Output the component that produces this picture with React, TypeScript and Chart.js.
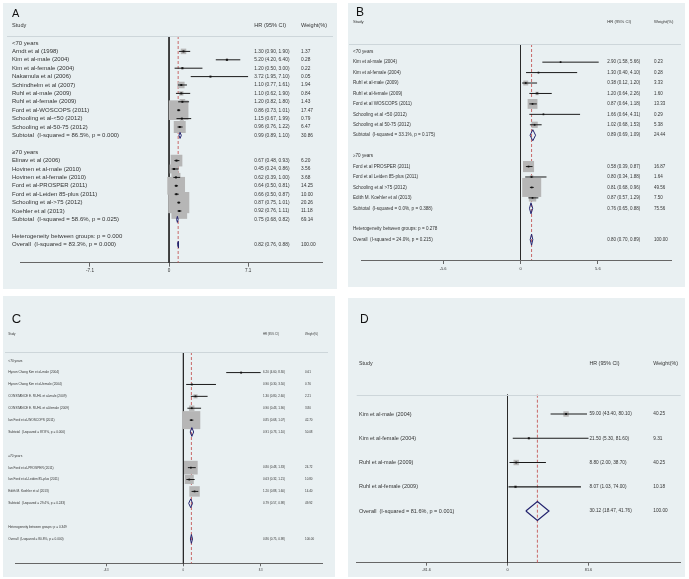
import React, { useEffect, useRef } from 'react';
import { Chart, registerables } from 'chart.js';

Chart.register(...registerables);

const FONT = '"Liberation Sans", Arial, Helvetica, sans-serif';
Chart.defaults.font.family = FONT;

// ---------------- Panel A ----------------
const aLabels = [
  '<70 years', 'Arndt et al (1998)', 'Kim et al-male (2004)', 'Kim et al-female (2004)', 'Nakamula et al (2006)',
  'Schindhelm et al (2007)', 'Ruhl et al-male (2009)', 'Ruhl et al-female (2009)', 'Ford et al-WOSCOPS (2011)',
  'Schooling et al-<50 (2012)', 'Schooling et al-50-75 (2012)', 'Subtotal  (I-squared = 86.5%, p = 0.000)', '',
  '≥70 years', 'Elinav et al (2006)', 'Hovinen et al-male (2010)', 'Hovinen et al-female (2010)',
  'Ford et al-PROSPER (2011)', 'Ford et al-Leiden 85-plus (2011)', 'Schooling et al->75 (2012)', 'Koehler et al (2013)',
  'Subtotal  (I-squared = 58.6%, p = 0.025)', '', 'Heterogeneity between groups: p = 0.000',
  'Overall  (I-squared = 83.3%, p = 0.000)',
];
const aHR = [null, 1.30, 5.20, 1.20, 3.72, 1.10, 1.10, 1.20, 0.86, 1.15, 0.96, 0.99, null, null, 0.67, 0.45, 0.62, 0.64, 0.66, 0.87, 0.92, 0.75, null, null, 0.82];
const aLow = [null, 0.90, 4.20, 0.50, 1.95, 0.77, 0.62, 0.82, 0.73, 0.67, 0.76, 0.89, null, null, 0.48, 0.24, 0.39, 0.50, 0.50, 0.75, 0.76, 0.68, null, null, 0.76];
const aHigh = [null, 1.90, 6.40, 3.00, 7.10, 1.61, 1.90, 1.80, 1.01, 1.99, 1.22, 1.10, null, null, 0.93, 0.86, 1.00, 0.81, 0.87, 1.01, 1.11, 0.82, null, null, 0.88];
const aWeight = [null, 1.37, 0.28, 0.22, 0.05, 1.94, 0.84, 1.43, 17.47, 0.79, 6.47, 30.86, null, null, 6.20, 3.56, 3.68, 14.25, 10.00, 20.26, 11.18, 69.14, null, null, 100.00];
const aTicks = [-7.1, 0, 7.1];

// ---------------- Panel B ----------------
const bLabels = [
  '<70 years', 'Kim et al-male (2004)', 'Kim et al-female (2004)', 'Ruhl et al-male (2009)', 'Ruhl et al-female (2009)',
  'Ford et al WOSCOPS (2011)', 'Schooling et al <50 (2012)', 'Schooling et al 50-75 (2012)',
  'Subtotal  (I-squared = 33.1%, p = 0.175)', '', '≥70 years', 'Ford et al PROSPER (2011)',
  'Ford et al Leiden 85-plus (2011)', 'Schooling et al >75 (2012)', 'Edith M. Koehler et al (2013)',
  'Subtotal  (I-squared = 0.0%, p = 0.388)', '', 'Heterogeneity between groups: p = 0.278',
  'Overall  (I-squared = 24.0%, p = 0.215)',
];
const bHR = [null, 2.90, 1.30, 0.38, 1.20, 0.87, 1.66, 1.02, 0.89, null, null, 0.58, 0.80, 0.81, 0.87, 0.76, null, null, 0.80];
const bLow = [null, 1.58, 0.40, 0.12, 0.64, 0.64, 0.64, 0.68, 0.69, null, null, 0.39, 0.34, 0.68, 0.57, 0.65, null, null, 0.70];
const bHigh = [null, 5.66, 4.10, 1.20, 2.26, 1.18, 4.31, 1.53, 1.09, null, null, 0.87, 1.88, 0.96, 1.29, 0.88, null, null, 0.89];
const bWeight = [null, 0.23, 0.28, 3.33, 1.60, 13.33, 0.29, 5.38, 24.44, null, null, 16.87, 1.64, 49.56, 7.50, 75.56, null, null, 100.00];
const bTicks = [-5.6, 0, 5.6];

// ---------------- Panel C ----------------
const cLabels = [
  '<70 years', 'Hyeon Chang Kim et al-male (2004)', 'Hyeon Chang Kim et al-female (2004)',
  'CONSTANCE E. RUHL et al-male (2009)', 'CONSTANCE E. RUHL et al-female (2009)', 'Ian Ford et al-WOSCOPS (2011)',
  'Subtotal  (I-squared = 87.8%, p = 0.000)', '', '≥70 years', 'Ian Ford et al-PROSPER (2011)',
  'Ian Ford et al-Leiden 85-plus (2011)', 'Edith M. Koehler et al (2013)',
  'Subtotal  (I-squared = 29.4%, p = 0.243)', '', 'Heterogeneity between groups: p = 0.349',
  'Overall  (I-squared = 80.8%, p = 0.000)',
];
const cHR = [null, 6.20, 0.90, 1.30, 0.90, 0.85, 0.91, null, null, 0.80, 0.63, 1.20, 0.79, null, null, 0.86];
const cLow = [null, 4.60, 0.30, 0.80, 0.43, 0.68, 0.73, null, null, 0.48, 0.32, 0.88, 0.57, null, null, 0.75];
const cHigh = [null, 8.30, 3.50, 2.60, 1.90, 1.07, 1.10, null, null, 1.33, 1.21, 1.60, 0.98, null, null, 0.98];
const cWeight = [null, 0.61, 0.76, 2.21, 3.80, 42.70, 50.08, null, null, 24.72, 10.80, 14.40, 49.92, null, null, 100.00];
const cTicks = [-8.3, 0, 8.3];

// ---------------- Panel D ----------------
const dLabels = [
  'Kim et al-male (2004)', 'Kim et al-female (2004)', 'Ruhl et al-male (2009)', 'Ruhl et al-female (2009)',
  'Overall  (I-squared = 81.6%, p = 0.001)',
];
const dHR = [59.00, 21.50, 8.80, 8.07, 30.12];
const dLow = [43.40, 5.30, 2.00, 1.03, 18.47];
const dHigh = [80.10, 81.60, 38.70, 74.00, 41.76];
const dWeight = [40.25, 9.31, 40.25, 10.18, 100.00];
const dTicks = [-81.6, 0, 81.6];

const headers = ['Study', 'HR (95% CI)', 'Weight(%)'];

type Panel = {
  letter: string;
  labels: string[]; hr: (number | null)[]; lo: (number | null)[]; hi: (number | null)[]; wt: (number | null)[]; ticks: number[];
  x: number; y: number; w: number; h: number;
  padL: number; padR: number; padT: number; axisH: number;
  yMin: number; yMax: number; xMin: number; xMax: number;
  labelX: number; hrX: number; wX: number; headerY: number;
  letterX: number; letterY: number; letterSize: number;
  labelSize: number; numSize: number; headSize: number; tickSize: number; tickLen: number; tickPad: number;
  boxK: number; markR: number; lineW: number; diamondHalf: number; diamondW: number;
  sepX0: number; sepX1: number;
};

const panels: Panel[] = [
  {
    letter: 'A', labels: aLabels, hr: aHR, lo: aLow, hi: aHigh, wt: aWeight, ticks: aTicks,
    x: 3, y: 3, w: 334, h: 286, padL: 17, padR: 12, padT: 33, axisH: 26.3,
    yMin: -0.833, yMax: 26.155, xMin: -13.43, xMax: 13.70,
    labelX: 9, hrX: 251.3, wX: 298, headerY: 22, letterX: 9, letterY: 10.5, letterSize: 11,
    labelSize: 6, numSize: 4.8, headSize: 5.6, tickSize: 4.6, tickLen: 4, tickPad: 1.2,
    boxK: 4.7, markR: 1.4, lineW: 1, diamondHalf: 0.36, diamondW: 1, sepX0: 4, sepX1: 330,
  },
  {
    letter: 'B', labels: bLabels, hr: bHR, lo: bLow, hi: bHigh, wt: bWeight, ticks: bTicks,
    x: 348, y: 3, w: 337, h: 284, padL: 12, padR: 4.3, padT: 41, axisH: 27,
    yMin: -0.738, yMax: 19.95, xMin: -11.5, xMax: 10.945,
    labelX: 5, hrX: 259.3, wX: 306, headerY: 19, letterX: 8, letterY: 10, letterSize: 12,
    labelSize: 4.6, numSize: 4.5, headSize: 4.2, tickSize: 4, tickLen: 4, tickPad: 2.6,
    boxK: 2.7, markR: 1.2, lineW: 1, diamondHalf: 0.53, diamondW: 1, sepX0: 1, sepX1: 333,
  },
  {
    letter: 'C', labels: cLabels, hr: cHR, lo: cLow, hi: cHigh, wt: cWeight, ticks: cTicks,
    x: 3, y: 296, w: 332, h: 281, padL: 1, padR: 8.3, padT: 56, axisH: 13.7,
    yMin: -0.732, yMax: 17.05, xMin: -18.06, xMax: 14.87,
    labelX: 5.3, hrX: 260, wX: 302, headerY: 38.7, letterX: 8.7, letterY: 23.7, letterSize: 13,
    labelSize: 3.2, numSize: 3, headSize: 2.8, tickSize: 2.8, tickLen: 3, tickPad: 2,
    boxK: 2.75, markR: 1.2, lineW: 1, diamondHalf: 0.37, diamondW: 1, sepX0: 2, sepX1: 325,
  },
  {
    letter: 'D', labels: dLabels, hr: dHR, lo: dLow, hi: dHigh, wt: dWeight, ticks: dTicks,
    x: 348, y: 298, w: 337, h: 279, padL: 8.7, padR: 4.3, padT: 96.7, axisH: 14.3,
    yMin: -0.796, yMax: 6.13, xMin: -152.4, xMax: 174,
    labelX: 11, hrX: 241.5, wX: 305.3, headerY: 66, letterX: 12, letterY: 21.7, letterSize: 12,
    labelSize: 5.5, numSize: 4.7, headSize: 5.3, tickSize: 3.8, tickLen: 3, tickPad: 2,
    boxK: 0.85, markR: 1.3, lineW: 1.2, diamondHalf: 0.39, diamondW: 1.2, sepX0: 8.7, sepX1: 332.7,
  },
];

const isPooled = (s: string) => /^(Subtotal|Overall)/.test(s);

function buildChart(canvas: HTMLCanvasElement, p: Panel) {
  const datasets: any[] = [];
  const overallIdx = p.labels.findIndex((s) => s.startsWith('Overall'));
  const overall = p.hr[overallIdx] as number;

  // shift the x range by a fraction of a pixel so the null line is crisp
  const areaW = p.w - p.padL - p.padR;
  const ppu = areaW / (p.xMax - p.xMin);
  const z = p.padL + -p.xMin * ppu;
  const delta = Math.floor(z) + 0.5 - z;
  const xMin = p.xMin - delta / ppu;
  const xMax = p.xMax - delta / ppu;

  datasets.push({
    data: [{ x: 0, y: p.yMin }, { x: 0, y: p.yMax }],
    showLine: true, borderColor: '#2a2a2a', borderWidth: 1, pointRadius: 0, order: 7, clip: false,
  });
  datasets.push({
    data: [{ x: overall, y: p.yMin }, { x: overall, y: p.yMax }],
    showLine: true, borderColor: 'rgba(196,90,90,0.9)', borderDash: [3, 2], borderWidth: 1, pointRadius: 0, order: 6, clip: false,
  });

  const boxPts: any[] = [];
  const boxR: number[] = [];
  const markPts: any[] = [];
  p.labels.forEach((label, i) => {
    const est = p.hr[i];
    const lo = p.lo[i];
    const hi = p.hi[i];
    const w = p.wt[i];
    if (est == null || lo == null || hi == null || w == null) return;
    if (isPooled(label)) {
      const hh = p.diamondHalf;
      datasets.push({
        data: [{ x: lo, y: i }, { x: est, y: i - hh }, { x: hi, y: i }, { x: est, y: i + hh }, { x: lo, y: i }],
        showLine: true, borderColor: '#23236e', borderWidth: p.diamondW, pointRadius: 0, order: 1, tension: 0, clip: false,
      });
    } else {
      boxPts.push({ x: est, y: i });
      boxR.push((p.boxK * Math.sqrt(w)) / Math.SQRT2);
      markPts.push({ x: est, y: i });
      datasets.push({
        data: [{ x: lo, y: i }, { x: hi, y: i }],
        showLine: true, borderColor: '#1a1a1a', borderWidth: p.lineW, pointRadius: 0, order: 3, clip: false,
      });
    }
  });
  datasets.push({
    data: boxPts, pointStyle: 'rect', pointRadius: boxR, backgroundColor: '#b6b6b6', borderWidth: 0, order: 4, clip: false,
  });
  datasets.push({
    data: markPts, pointStyle: 'rect', pointRadius: p.markR, backgroundColor: '#111', borderWidth: 0, order: 2, clip: false,
  });

  const textPlugin = {
    id: 'forestText',
    afterDraw(chart: any) {
      const ctx = chart.ctx as CanvasRenderingContext2D;
      const ys = chart.scales.y;
      const area = chart.chartArea;
      ctx.save();
      ctx.strokeStyle = '#cdd6da';
      ctx.lineWidth = 1;
      ctx.beginPath();
      ctx.moveTo(p.sepX0, Math.round(area.top) + 0.5);
      ctx.lineTo(p.sepX1, Math.round(area.top) + 0.5);
      ctx.stroke();

      ctx.textBaseline = 'middle';
      ctx.textAlign = 'left';
      ctx.fillStyle = '#111';
      ctx.font = `${p.letterSize}px ${FONT}`;
      ctx.fillText(p.letter, p.letterX, p.letterY);

      ctx.fillStyle = '#333';
      ctx.font = `${p.headSize}px ${FONT}`;
      ctx.fillText(headers[0], p.labelX, p.headerY);
      ctx.fillText(headers[1], p.hrX, p.headerY);
      ctx.fillText(headers[2], p.wX, p.headerY);

      p.labels.forEach((label, i) => {
        const y = ys.getPixelForValue(i);
        if (label) {
          ctx.font = `${p.labelSize}px ${FONT}`;
          ctx.fillText(label, p.labelX, y);
        }
        const est = p.hr[i];
        const lo = p.lo[i];
        const hi = p.hi[i];
        const w = p.wt[i];
        if (est != null && lo != null && hi != null && w != null) {
          ctx.font = `${p.numSize}px ${FONT}`;
          ctx.fillText(`${est.toFixed(2)} (${lo.toFixed(2)}, ${hi.toFixed(2)})`, p.hrX, y);
          ctx.fillText(w.toFixed(2), p.wX, y);
        }
      });
      ctx.restore();
    },
  };

  return new Chart(canvas, {
    type: 'scatter',
    data: { datasets },
    options: {
      responsive: false,
      maintainAspectRatio: false,
      animation: false,
      events: [],
      layout: { padding: { left: p.padL, right: p.padR, top: p.padT, bottom: 0 } },
      plugins: { legend: { display: false }, tooltip: { enabled: false } },
      scales: {
        x: {
          type: 'linear',
          min: xMin,
          max: xMax,
          afterBuildTicks: (s: any) => {
            s.ticks = p.ticks.map((v) => ({ value: v }));
          },
          afterFit: (s: any) => {
            s.height = p.axisH;
          },
          ticks: {
            autoSkip: false,
            maxRotation: 0,
            padding: p.tickPad,
            color: '#333',
            font: { size: p.tickSize, family: FONT },
            callback: (v: any) => String(v),
          },
          grid: { drawOnChartArea: false, drawTicks: true, tickLength: p.tickLen, color: '#666', lineWidth: 1 },
          border: { display: true, color: '#666', width: 1 },
        },
        y: { type: 'linear', display: false, reverse: true, min: p.yMin, max: p.yMax },
      },
    } as any,
    plugins: [textPlugin],
  });
}

function ForestPanel({ p }: { p: Panel }) {
  const ref = useRef<HTMLCanvasElement>(null);
  useEffect(() => {
    if (!ref.current) return;
    const chart = buildChart(ref.current, p);
    return () => chart.destroy();
  }, [p]);
  return (
    <canvas
      ref={ref}
      width={p.w}
      height={p.h}
      style={{ position: 'absolute', left: p.x, top: p.y, width: p.w, height: p.h, background: '#e9f0f2' }}
    />
  );
}

export default function App() {
  return (
    <div style={{ position: 'absolute', left: 0, top: 0, width: 689, height: 579, background: '#fff', overflow: 'hidden' }}>
      {panels.map((p) => (
        <ForestPanel key={p.letter} p={p} />
      ))}
    </div>
  );
}
